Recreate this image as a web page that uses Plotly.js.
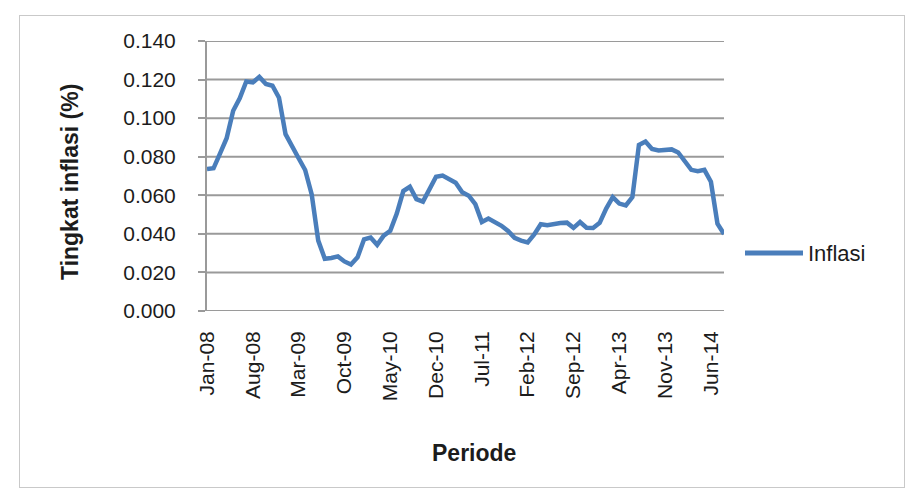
<!DOCTYPE html>
<html>
<head>
<meta charset="utf-8">
<script src="https://cdn.plot.ly/plotly-3.0.1.min.js"></script>
<style>
  html, body { margin: 0; padding: 0; background: #ffffff; }
  #wrap { position: relative; width: 916px; height: 491px; }
  #frame { position: absolute; left: 19px; top: 15px; width: 884px; height: 471px;
           border: 1.5px solid #c9c9c9; pointer-events: none; }
  #chart { position: absolute; left: 0; top: 0; width: 916px; height: 491px; }
</style>
</head>
<body>
<div id="wrap">
  <div id="chart"></div>
  <div id="frame"></div>
</div>
<script>
// Monthly year-on-year inflation rate, Jan-08 .. Aug-14
const infl2008 = [0.0736, 0.0740, 0.0817, 0.0896, 0.1038, 0.1103, 0.1190, 0.1185, 0.1214, 0.1177, 0.1168, 0.1106];
const infl2009 = [0.0917, 0.0860, 0.0792, 0.0731, 0.0604, 0.0365, 0.0271, 0.0275, 0.0283, 0.0257, 0.0241, 0.0278];
const infl2010 = [0.0372, 0.0381, 0.0343, 0.0391, 0.0416, 0.0505, 0.0622, 0.0644, 0.0580, 0.0567, 0.0633, 0.0696];
const infl2011 = [0.0702, 0.0684, 0.0665, 0.0616, 0.0598, 0.0554, 0.0461, 0.0479, 0.0461, 0.0442, 0.0415, 0.0379];
const infl2012 = [0.0365, 0.0356, 0.0397, 0.0450, 0.0445, 0.0453, 0.0456, 0.0458, 0.0431, 0.0461, 0.0432, 0.0430];
const infl2013 = [0.0457, 0.0531, 0.0590, 0.0557, 0.0547, 0.0590, 0.0861, 0.0879, 0.0840, 0.0832, 0.0837, 0.0838];
const infl2014 = [0.0822, 0.0775, 0.0732, 0.0725, 0.0732, 0.0670, 0.0453, 0.0399];

// Category ticks, one label every seven months
const tickPositions = [0, 7, 14, 21, 28, 35, 42, 49, 56, 63, 70, 77];
const tickLabels = ['Jan-08', 'Aug-08', 'Mar-09', 'Oct-09', 'May-10', 'Dec-10',
                    'Jul-11', 'Feb-12', 'Sep-12', 'Apr-13', 'Nov-13', 'Jun-14'];
const yTicks = [0, 0.02, 0.04, 0.06, 0.08, 0.10, 0.12, 0.14];

const inflasi = [].concat(infl2008, infl2009, infl2010, infl2011, infl2012, infl2013, infl2014);
const monthIndex = inflasi.map((_, i) => i);

const lineColor = '#4a7ebb';
const gridColor = '#9a9a9a';
const textColor = '#1c1c1c';
const fontFamily = '"Liberation Sans", Arial, sans-serif';

// plot area in pixels
const L = 207, R = 724, T = 41, B = 311;
const W = 916, H = 491;
const px = x => (x - L) / (R - L);
const py = y => (B - y) / (B - T);

const trace = {
  x: monthIndex,
  y: inflasi,
  type: 'scatter',
  mode: 'lines',
  name: 'Inflasi',
  line: { color: lineColor, width: 4.5, shape: 'linear' },
  showlegend: false,
  hoverinfo: 'skip'
};

// horizontal value gridlines, drawn below the data line
const gridShapes = yTicks.map(v => ({
  type: 'line', xref: 'paper', yref: 'y', layer: 'below',
  x0: 0, x1: 1, y0: v, y1: v,
  line: { color: gridColor, width: 2 }
}));

const layout = {
  width: W,
  height: H,
  margin: { l: L, r: W - R, t: T, b: H - B, pad: 0 },
  paper_bgcolor: '#ffffff',
  plot_bgcolor: '#ffffff',
  font: { family: fontFamily, color: textColor, size: 21 },
  xaxis: {
    range: [0, inflasi.length - 1],
    tickmode: 'array',
    tickvals: tickPositions,
    ticktext: tickLabels,
    tickangle: -90,
    ticks: '',
    ticklabelstandoff: 15,
    showgrid: false,
    zeroline: false,
    showline: false,
    tickfont: { size: 21, color: textColor, family: fontFamily },
    fixedrange: true
  },
  yaxis: {
    range: [0, 0.14],
    tickmode: 'array',
    tickvals: yTicks,
    ticktext: yTicks.map(v => v.toFixed(3)),
    ticks: 'outside',
    ticklen: 7,
    tickwidth: 2,
    tickcolor: gridColor,
    ticklabelstandoff: 18,
    showgrid: false,
    zeroline: false,
    showline: true,
    linecolor: gridColor,
    linewidth: 2,
    tickfont: { size: 21, color: textColor, family: fontFamily },
    fixedrange: true
  },
  shapes: gridShapes.concat([
    // legend sample line
    { type: 'line', xref: 'paper', yref: 'paper',
      x0: px(745), x1: px(803), y0: py(253), y1: py(253),
      line: { color: lineColor, width: 5 } }
  ]),
  annotations: [
    { text: 'Inflasi', xref: 'paper', yref: 'paper', x: px(806), y: py(253),
      xanchor: 'left', yanchor: 'middle', showarrow: false,
      font: { size: 22, color: textColor, family: fontFamily } },
    { text: '<b>Tingkat inflasi (%)</b>', xref: 'paper', yref: 'paper',
      x: px(70), y: py(182), textangle: -90, xanchor: 'center', yanchor: 'middle',
      showarrow: false, font: { size: 23, color: textColor, family: fontFamily } },
    { text: '<b>Periode</b>', xref: 'paper', yref: 'paper',
      x: px(474), y: py(453), xanchor: 'center', yanchor: 'middle',
      showarrow: false, font: { size: 23, color: textColor, family: fontFamily } }
  ]
};

Plotly.newPlot('chart', [trace], layout, { displayModeBar: false, staticPlot: true });
</script>
</body>
</html>
